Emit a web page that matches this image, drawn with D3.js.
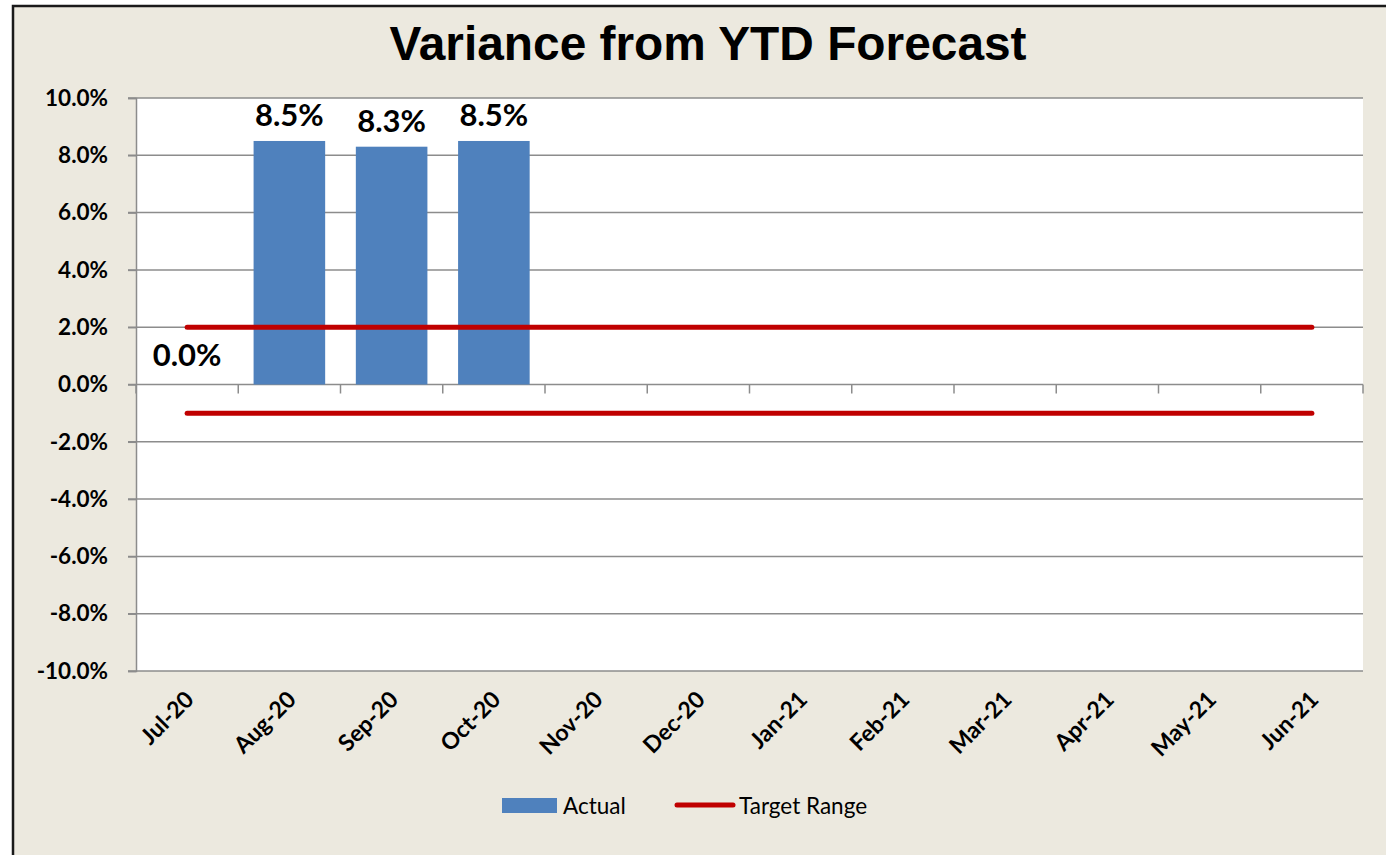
<!DOCTYPE html>
<html>
<head>
<meta charset="utf-8">
<script src="https://cdn.jsdelivr.net/npm/d3@7"></script>
<style>
  body { margin: 0; background: #fff; }
  svg { display: block; }
</style>
</head>
<body>
<div id="chart"></div>
<script>
// values
var months = ["Jul-20", "Aug-20", "Sep-20", "Oct-20", "Nov-20", "Dec-20",
              "Jan-21", "Feb-21", "Mar-21", "Apr-21", "May-21", "Jun-21"];
var actual = [0.0, 8.5, 8.3, 8.5, null, null, null, null, null, null, null, null];
var targetHigh = [2, 2, 2, 2, 2, 2, 2, 2, 2, 2, 2, 2];
var targetLow = [-1, -1, -1, -1, -1, -1, -1, -1, -1, -1, -1, -1];
var yTicks = [-10, -8, -6, -4, -2, 0, 2, 4, 6, 8, 10];

var width = 1386, height = 855;
var plot = { left: 136, right: 1363, top: 98, bottom: 671 };
var labelFont = "Lato, 'Open Sans', sans-serif";

var svg = d3.select("#chart").append("svg")
    .attr("width", width)
    .attr("height", height);

// chart frame
svg.append("rect")
    .attr("x", 13).attr("y", 6)
    .attr("width", width + 10).attr("height", height + 10)
    .attr("fill", "#ECE9DF")
    .attr("stroke", "#1a1a1a")
    .attr("stroke-width", 2.5);

svg.append("rect")
    .attr("x", plot.left).attr("y", plot.top)
    .attr("width", plot.right - plot.left)
    .attr("height", plot.bottom - plot.top)
    .attr("fill", "#fff");

svg.append("text")
    .attr("x", 708).attr("y", 60)
    .attr("text-anchor", "middle")
    .attr("font-family", "'Liberation Sans', Arial, sans-serif")
    .attr("font-weight", "bold")
    .attr("font-size", 48)
    .attr("textLength", 637)
    .attr("lengthAdjust", "spacingAndGlyphs")
    .text("Variance from YTD Forecast");

var x = d3.scaleBand()
    .domain(months)
    .range([plot.left, plot.right])
    .paddingInner(0.3)
    .paddingOuter(0.15);

var xEdge = d3.scaleBand()
    .domain(months)
    .range([plot.left, plot.right]);

var y = d3.scaleLinear()
    .domain([-10, 10])
    .range([plot.bottom, plot.top]);

var fmt = function(d) { return d.toFixed(1) + "%"; };

// gridlines
svg.append("g")
  .selectAll("line")
  .data(yTicks)
  .enter().append("line")
    .attr("x1", plot.left - 8).attr("x2", plot.right)
    .attr("y1", function(d) { return y(d); })
    .attr("y2", function(d) { return y(d); })
    .attr("stroke", "#8c8c8c")
    .attr("stroke-width", 1.5);

// y axis
var yAxis = svg.append("g")
    .attr("transform", "translate(" + plot.left + ",0)")
    .call(d3.axisLeft(y).tickValues(yTicks).tickFormat(fmt).tickSize(8).tickPadding(20));
yAxis.select(".domain").attr("stroke", "#8c8c8c").attr("stroke-width", 1.5);
yAxis.selectAll(".tick line").attr("stroke", "#8c8c8c").attr("stroke-width", 1.5);
yAxis.selectAll("text")
    .attr("font-family", labelFont)
    .attr("font-weight", "bold")
    .attr("font-size", 22.5)
    .attr("fill", "#000");

// category ticks on the zero line
var xAxis = svg.append("g")
    .attr("transform", "translate(0," + y(0) + ")");
xAxis.selectAll("line")
    .data(months.concat(["end"]))
    .enter().append("line")
    .attr("x1", function(d, i) { return plot.left + i * xEdge.bandwidth(); })
    .attr("x2", function(d, i) { return plot.left + i * xEdge.bandwidth(); })
    .attr("y1", 0).attr("y2", 9)
    .attr("stroke", "#8c8c8c")
    .attr("stroke-width", 1.5);

// month labels
svg.append("g")
  .selectAll("text")
  .data(months)
  .enter().append("text")
    .attr("transform", function(d) {
      return "translate(" + (xEdge(d) + xEdge.bandwidth() / 2 + 8) + "," + (plot.bottom + 30) + ") rotate(-45)";
    })
    .attr("text-anchor", "end")
    .attr("font-family", labelFont)
    .attr("font-weight", "bold")
    .attr("font-size", 23)
    .text(function(d) { return d; });

// bars
var barData = months.map(function(m, i) { return { m: m, v: actual[i] }; })
    .filter(function(d) { return d.v !== null; });

svg.append("g")
  .selectAll("rect")
  .data(barData)
  .enter().append("rect")
    .attr("x", function(d) { return x(d.m); })
    .attr("width", x.bandwidth())
    .attr("y", function(d) { return y(Math.max(0, d.v)); })
    .attr("height", function(d) { return Math.abs(y(d.v) - y(0)); })
    .attr("fill", "#4F81BD");

svg.append("g")
  .selectAll("text")
  .data(barData)
  .enter().append("text")
    .attr("x", function(d) { return x(d.m) + x.bandwidth() / 2; })
    .attr("y", function(d) { return y(d.v) - (d.v === 0 ? 19 : 15); })
    .attr("text-anchor", "middle")
    .attr("font-family", labelFont)
    .attr("font-weight", "bold")
    .attr("font-size", 31)
    .text(function(d) { return fmt(d.v); });

// target range lines
var line = d3.line()
    .x(function(d, i) { return xEdge(months[i]) + xEdge.bandwidth() / 2; })
    .y(function(d) { return y(d); });

svg.append("g")
  .selectAll("path")
  .data([targetHigh, targetLow])
  .enter().append("path")
    .attr("d", line)
    .attr("fill", "none")
    .attr("stroke", "#C00000")
    .attr("stroke-width", 5)
    .attr("stroke-linecap", "round");

// legend
var legend = svg.append("g");
legend.append("rect")
    .attr("x", 502).attr("y", 798)
    .attr("width", 55).attr("height", 15)
    .attr("fill", "#4F81BD");
legend.append("text")
    .attr("x", 563).attr("y", 814)
    .attr("font-family", labelFont)
    .attr("font-size", 22.5)
    .text("Actual");
legend.append("line")
    .attr("x1", 677).attr("x2", 733)
    .attr("y1", 805).attr("y2", 805)
    .attr("stroke", "#C00000")
    .attr("stroke-width", 5)
    .attr("stroke-linecap", "round");
legend.append("text")
    .attr("x", 739).attr("y", 814)
    .attr("font-family", labelFont)
    .attr("font-size", 22.5)
    .text("Target Range");
</script>
</body>
</html>
